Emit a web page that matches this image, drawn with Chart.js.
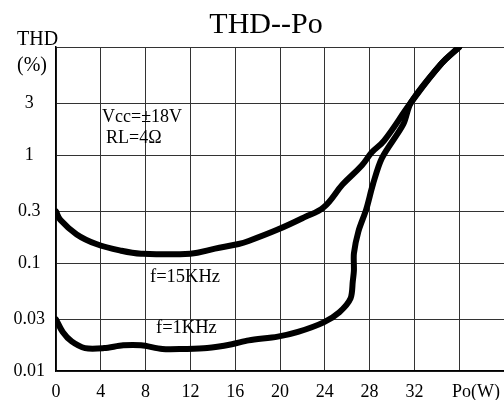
<!DOCTYPE html>
<html>
<head>
<meta charset="utf-8">
<script src="https://cdn.jsdelivr.net/npm/chart.js@4.4.1/dist/chart.umd.min.js"></script>
<style>html,body{margin:0;padding:0;background:#fff}</style>
</head>
<body>
<canvas id="thdChart" width="504" height="400"></canvas>
<script>
// f = 15KHz curve
const po15k = [0, 0.4, 1.85, 3.6, 5.8, 7.6, 12, 14.2, 16.3, 17.2, 19.8, 22.2, 23.9, 25.6, 27.3, 28.2, 29.3, 31.7, 34.4, 36];
const thd15k = [0.3, 0.25, 0.184, 0.15, 0.13, 0.122, 0.122, 0.136, 0.15, 0.16, 0.204, 0.266, 0.328, 0.535, 0.8, 1.06, 1.36, 3.07, 7.0, 10];

// f = 1KHz curve
const po1k = [0, 0.6, 1.4, 2.6, 4.3, 6.0, 7.6, 9.5, 11.4, 13.5, 15.7, 17.2, 19.8, 21.6, 23.9, 25.3, 26.3, 26.5, 26.6, 26.6, 27.0, 27.7, 28.3, 29.1, 31.0, 31.7, 34.4, 36];
const thd1k = [0.03, 0.023, 0.0188, 0.0163, 0.0163, 0.0173, 0.0173, 0.016, 0.016, 0.0163, 0.0177, 0.0192, 0.0208, 0.023, 0.0282, 0.035, 0.047, 0.068, 0.0855, 0.123, 0.196, 0.314, 0.536, 0.936, 1.92, 3.07, 7.0, 10];

const yTicks = [0.01, 0.03, 0.1, 0.3, 1, 3, 10];
const yTickLabels = ['0.01', '0.03', '0.1', '0.3', '1', '3', ''];
const xTicks = [0, 4, 8, 12, 16, 20, 24, 28, 32];

const serif = '"Liberation Serif", "Times New Roman", serif';

const textPlugin = {
    id: 'texts',
    afterDraw(chart) {
        const ctx = chart.ctx;
        ctx.save();
        ctx.fillStyle = '#000';
        ctx.textBaseline = 'alphabetic';
        ctx.textAlign = 'center';
        ctx.font = '30px ' + serif;
        ctx.fillText('THD--Po', 266, 33);
        ctx.textAlign = 'left';
        ctx.font = '20px ' + serif;
        ctx.fillText('THD', 17, 45);
        ctx.fillText('(%)', 17, 71);
        ctx.font = '18px ' + serif;
        ctx.fillText('Vcc=\u00b118V', 102, 122);
        ctx.fillText('RL=4\u03a9', 106, 143);
        ctx.font = '18.5px ' + serif;
        ctx.fillText('f=15KHz', 150, 282);
        ctx.fillText('f=1KHz', 156, 333);
        ctx.font = '18px ' + serif;
        ctx.textAlign = 'center';
        ctx.fillText('Po(W)', 476, 397);
        ctx.restore();
    }
};

const lineStyle = {
    borderColor: '#000',
    borderWidth: 6,
    pointRadius: 0,
    borderCapStyle: 'round',
    borderJoinStyle: 'round',
    fill: false
};

const config = {
    type: 'line',
    data: {
        datasets: [
            Object.assign({ label: 'f=15KHz', tension: 0.4, data: po15k.map((x, i) => ({ x: x, y: thd15k[i] })) }, lineStyle),
            Object.assign({ label: 'f=1KHz', tension: 0.3, data: po1k.map((x, i) => ({ x: x, y: thd1k[i] })) }, lineStyle)
        ]
    },
    options: {
        responsive: false,
        animation: false,
        layout: { padding: { top: 47, left: 0, right: 0, bottom: 0 } },
        plugins: {
            legend: { display: false },
            title: { display: false },
            tooltip: { enabled: false }
        },
        scales: {
            x: {
                type: 'linear',
                min: 0,
                max: 40,
                afterBuildTicks: s => { s.ticks = xTicks.concat([36, 40]).map(v => ({ value: v })); },
                afterFit: s => { s.height = 29; s.paddingRight = 0; s.paddingLeft = 0; },
                ticks: {
                    padding: 10,
                    maxRotation: 0,
                    autoSkip: false,
                    color: '#000',
                    font: { family: serif, size: 18 },
                    callback: v => (xTicks.includes(v) ? String(v) : '')
                },
                grid: { color: '#333', lineWidth: 1, drawTicks: false },
                border: { color: '#000', width: 1.5 }
            },
            y: {
                type: 'logarithmic',
                min: 0.01,
                max: 10,
                afterBuildTicks: s => { s.ticks = yTicks.map(v => ({ value: v })); },
                afterFit: s => { s.width = 56; s.paddingTop = 0; s.paddingBottom = 0; },
                ticks: {
                    padding: 11,
                    crossAlign: 'center',
                    autoSkip: false,
                    color: '#000',
                    font: { family: serif, size: 18 },
                    callback: v => {
                        const i = yTicks.indexOf(v);
                        return i >= 0 ? yTickLabels[i] : '';
                    }
                },
                grid: { color: '#333', lineWidth: 1, drawTicks: false },
                border: { color: '#000', width: 1.5 }
            }
        }
    },
    plugins: [textPlugin]
};

const myChart = new Chart(document.getElementById('thdChart'), config);
</script>
</body>
</html>
